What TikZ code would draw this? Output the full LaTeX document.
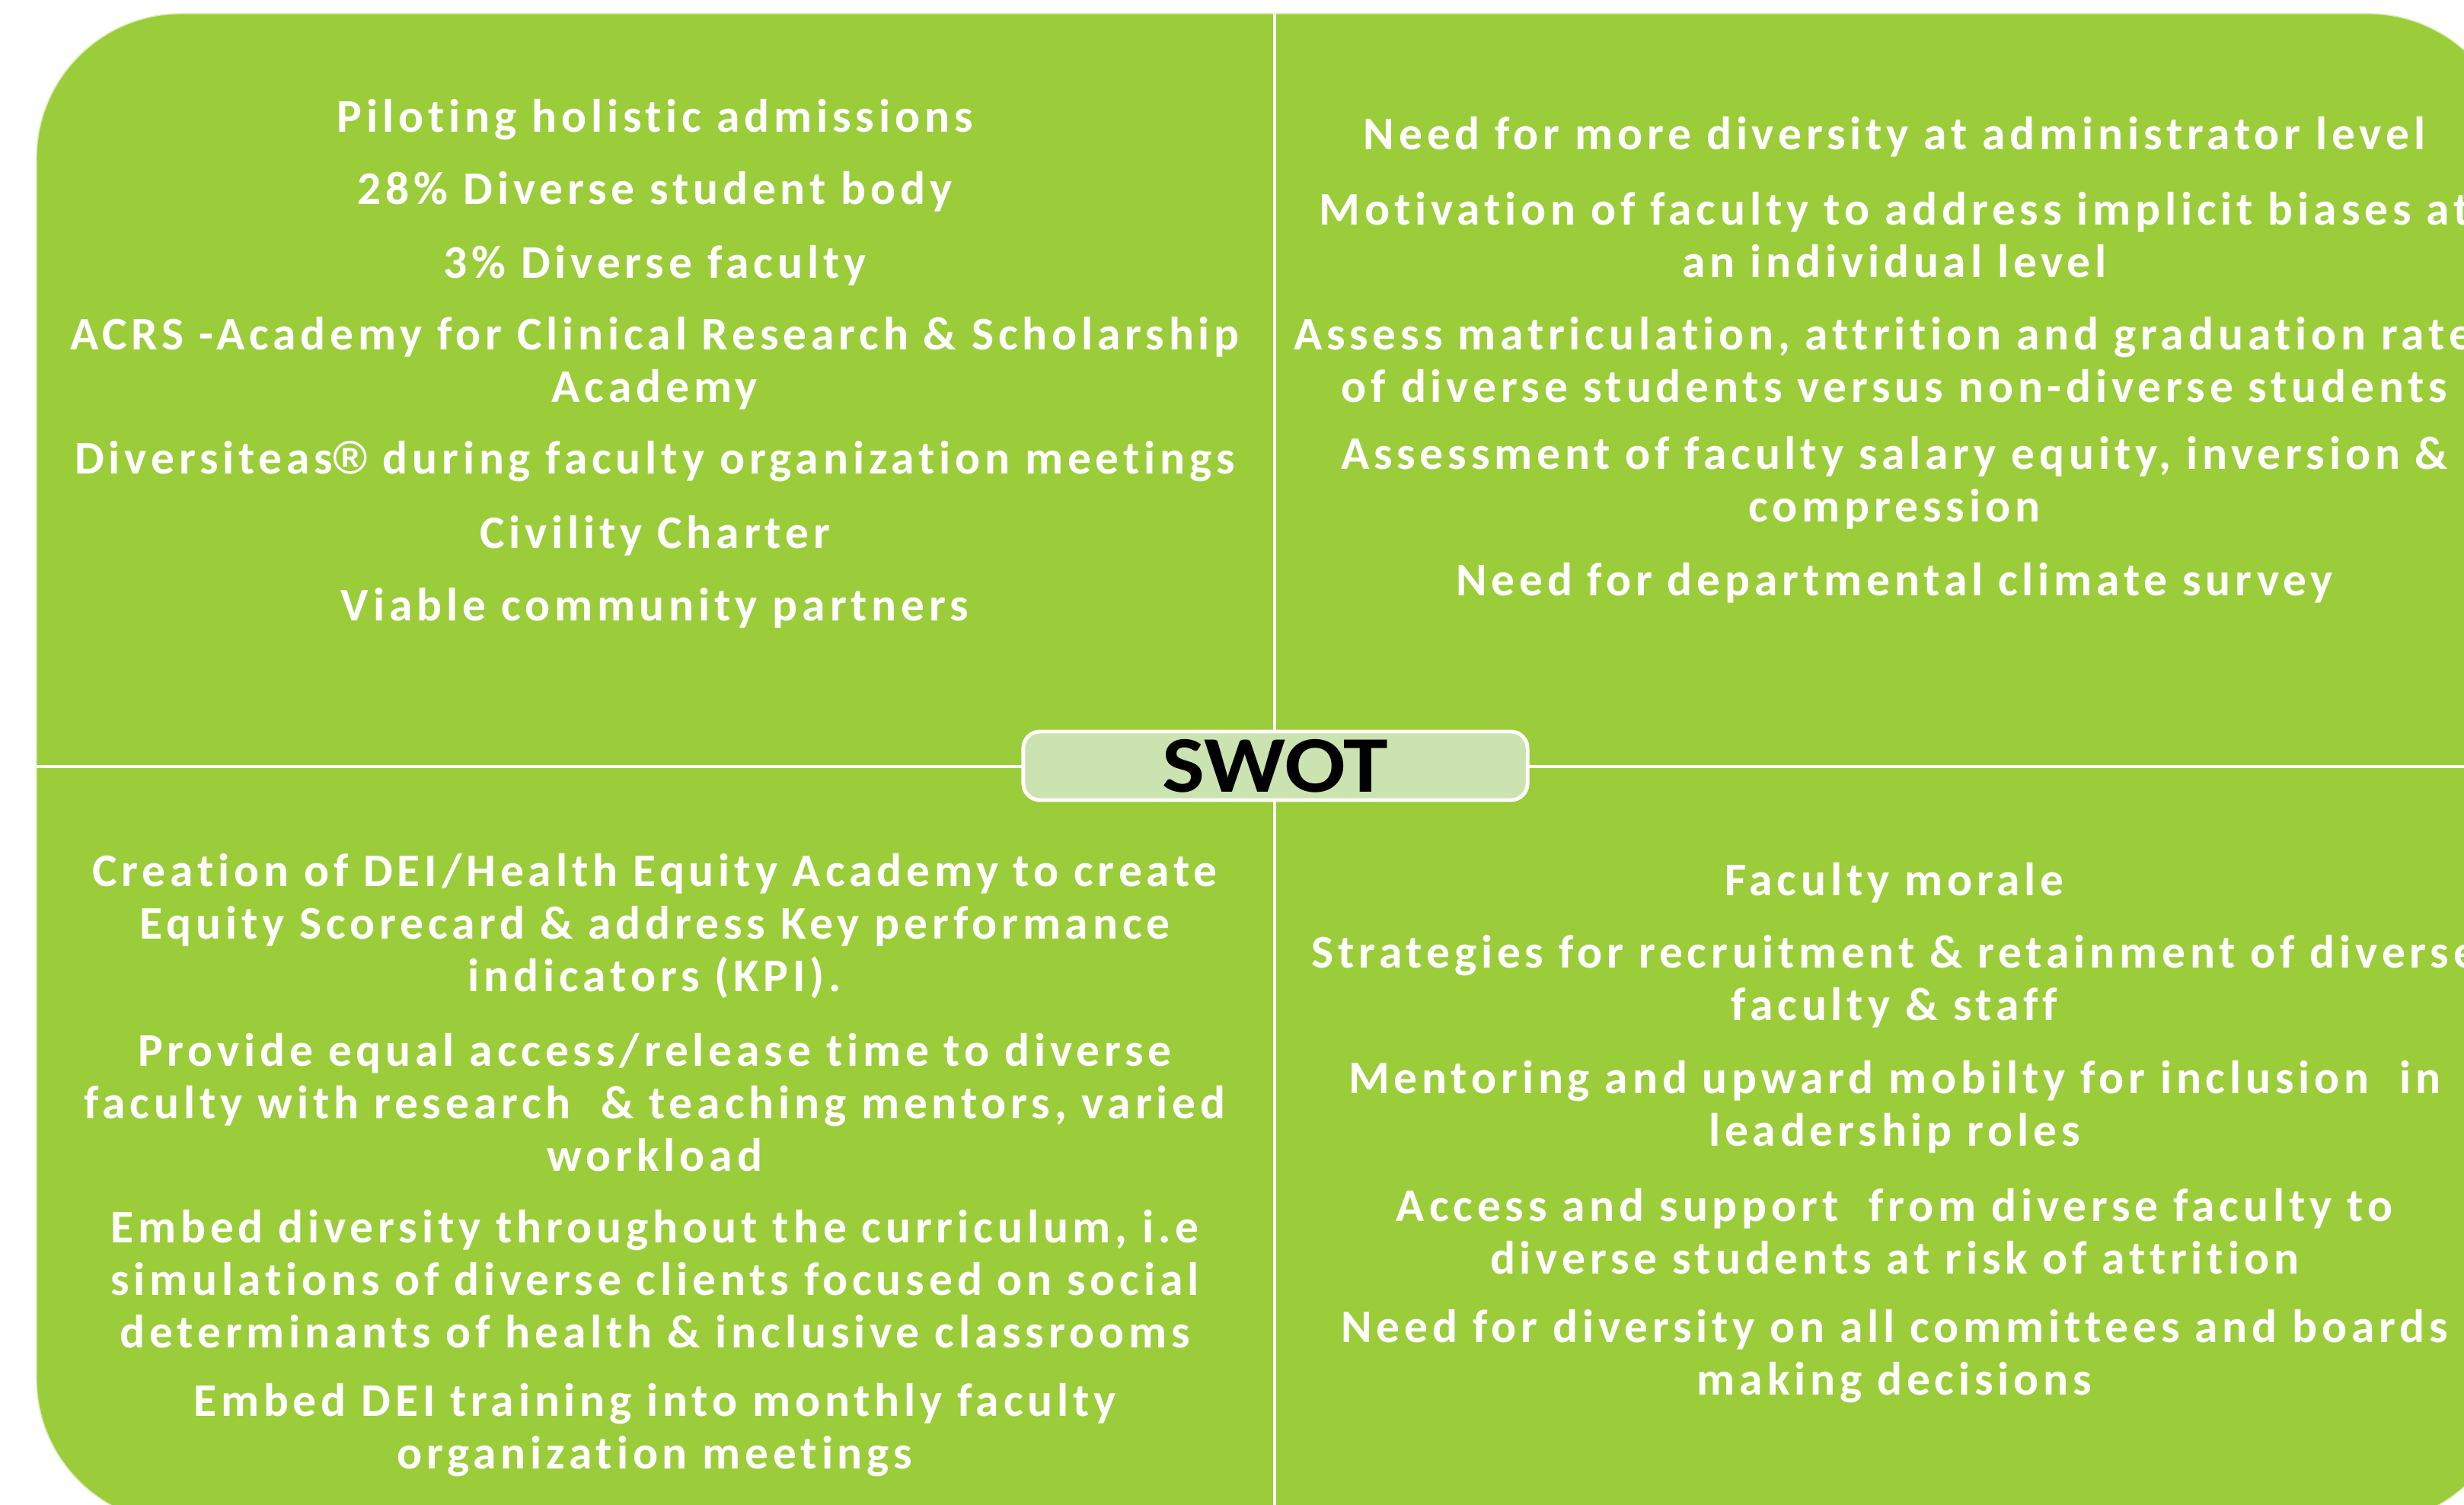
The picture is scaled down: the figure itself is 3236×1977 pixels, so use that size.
\documentclass[tikz,border=0pt]{standalone}
\usepackage{fontspec}
\setmainfont{Carlito}
\newfontfamily\itemfont[LetterSpace=9.5,Ligatures=NoCommon]{Carlito}
\newfontfamily\regfont{Liberation Sans}
\definecolor{swgreen}{RGB}{155,204,57}
\definecolor{swlight}{RGB}{202,227,176}
\begin{document}
\begin{tikzpicture}[x=0.01cm,y=-0.01cm,
  item/.style={text=white,font=\itemfont\fontsize{17.5}{19.63}\selectfont\bfseries,align=center,inner sep=0pt},
  divider/.style={white,line width=1.4pt},
  swotbox/.style={draw=white,line width=1.4pt,fill=swlight,rounded corners=0.22cm,minimum width=6.62cm,minimum height=0.90cm,inner sep=0pt,font=\fontsize{30}{34}\selectfont\bfseries}]
\useasboundingbox (0,0) rectangle (3236,1977);
\clip (0,0) rectangle (3236,1977);
\fill[white] (0,0) rectangle (3236,1977);
% main rounded shape (extends past the right and bottom edges)
\fill[swgreen,rounded corners=1.9cm] (48,18) rectangle (3300,2001);
\draw[white!60!swgreen,line width=0.4pt,rounded corners=1.9cm] (48,18) rectangle (3300,2001);
% dividers
\coordinate (vt) at (1674,18);
\coordinate (vb) at (1674,2001);
\coordinate (hl) at (48,1007);
\coordinate (hr) at (3300,1007);
\draw[divider] (vt) -- (vb);
\draw[divider] (hl) -- (hr);
% centre label
\node[swotbox] (swot) at (1675,1006) {\scalebox{1.12}[1]{SWOT}};
\begin{scope}[shift={(0,4)}]
% Strengths (top left)
\node[item] (s1) at (860,152.7) {Piloting holistic admissions};
\node[item] (s2) at (860,247.7) {28\% Diverse student body};
\node[item] (s3) at (860,344.7) {3\% Diverse faculty};
\node[item] (s4) at (860,473.6) {ACRS -Academy for Clinical Research \& Scholarship\\Academy};
\node[item] (s5) at (860,602.6) {Diversiteas{\regfont\bfseries ®} during faculty organization meetings};
\node[item] (s6) at (860,699.6) {Civility Charter};
\node[item] (s7) at (860,794.6) {Viable community partners};
% Weaknesses (top right)
\node[item] (w1) at (2488,175.4) {Need for more diversity at administrator level};
\node[item] (w2) at (2488,304.4) {Motivation of faculty to address implicit biases at\\an individual level};
\node[item] (w3) at (2488,468.5) {Assess matriculation, attrition and graduation rates\\of diverse students versus non-diverse students};
\node[item] (w4) at (2488,630.5) {Assessment of faculty salary equity, inversion \&\\compression};
\node[item] (w5) at (2488,761.5) {Need for departmental climate survey};
% Opportunities (bottom left)
\node[item] (o1) at (860,1212.1) {Creation of DEI/Health Equity Academy to create\\Equity Scorecard \& address Key performance\\indicators (KPI).};
\node[item] (o2) at (860,1444) {Provide equal access/release time to diverse\\faculty with research \ \& teaching mentors, varied\\workload};
\node[item] (o3) at (860,1676.5) {Embed diversity throughout the curriculum, i.e\\simulations of diverse clients focused on social\\determinants of health \& inclusive classrooms};
\node[item] (o4) at (860,1875) {Embed DEI training into monthly faculty\\organization meetings};
% Threats (bottom right)
\node[item] (t1) at (2488,1155.7) {Faculty morale};
\node[item] (t2) at (2488,1285.7) {Strategies for recruitment \& retainment of diverse\\faculty \& staff};
\node[item] (t3) at (2488,1449.8) {Mentoring and upward mobilty for inclusion \ in\\leadership roles};
\node[item] (t4) at (2488,1613.9) {Access and support \ from diverse faculty to\\diverse students at risk of attrition};
\node[item] (t5) at (2488,1778) {Need for diversity on all committees and boards\\making decisions};
\end{scope}
\end{tikzpicture}
\end{document}
